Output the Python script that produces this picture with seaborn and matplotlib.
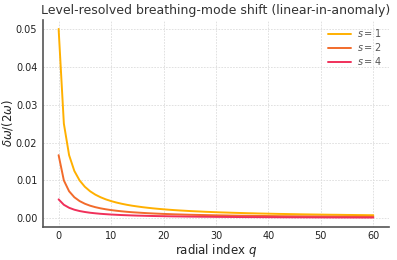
#!/usr/bin/env python
"""Level-resolved breathing-mode shift, one curve per s."""
import matplotlib
matplotlib.use('Agg')
import matplotlib.pyplot as plt
import seaborn as sb
import pandas as pd

# radial index q = 0..60
q_values = list(range(61))

shift_s1 = [0.05, 0.025, 0.01667, 0.0125, 0.01, 0.00833, 0.00714, 0.00625, 0.00556, 0.005,
            0.00455, 0.00417, 0.00385, 0.00357, 0.00333, 0.00313, 0.00294, 0.00278, 0.00263, 0.0025,
            0.00238, 0.00227, 0.00217, 0.00208, 0.002, 0.00192, 0.00185, 0.00179, 0.00172, 0.00167,
            0.00161, 0.00156, 0.00152, 0.00147, 0.00143, 0.00139, 0.00135, 0.00132, 0.00128, 0.00125,
            0.00122, 0.00119, 0.00116, 0.00114, 0.00111, 0.00109, 0.00106, 0.00104, 0.00102, 0.001,
            0.00098, 0.00096, 0.00094, 0.00093, 0.00091, 0.00089, 0.00088, 0.00086, 0.00085, 0.00083,
            0.00082]
shift_s2 = [0.01667, 0.01, 0.00714, 0.00556, 0.00455, 0.00385, 0.00333, 0.00294, 0.00263, 0.00238,
            0.00217, 0.002, 0.00185, 0.00172, 0.00161, 0.00152, 0.00143, 0.00135, 0.00128, 0.00122,
            0.00116, 0.00111, 0.00106, 0.00102, 0.00098, 0.00094, 0.00091, 0.00088, 0.00085, 0.00082,
            0.00079, 0.00077, 0.00075, 0.00072, 0.0007, 0.00068, 0.00067, 0.00065, 0.00063, 0.00062,
            0.0006, 0.00059, 0.00057, 0.00056, 0.00055, 0.00054, 0.00053, 0.00052, 0.00051, 0.0005,
            0.00049, 0.00048, 0.00047, 0.00046, 0.00045, 0.00044, 0.00044, 0.00043, 0.00042, 0.00041,
            0.00041]
shift_s4 = [0.005, 0.00357, 0.00278, 0.00227, 0.00192, 0.00167, 0.00147, 0.00132, 0.00119, 0.00109,
            0.001, 0.00093, 0.00086, 0.00081, 0.00076, 0.00071, 0.00068, 0.00064, 0.00061, 0.00058,
            0.00056, 0.00053, 0.00051, 0.00049, 0.00047, 0.00045, 0.00044, 0.00042, 0.00041, 0.0004,
            0.00038, 0.00037, 0.00036, 0.00035, 0.00034, 0.00033, 0.00032, 0.00032, 0.00031, 0.0003,
            0.00029, 0.00029, 0.00028, 0.00027, 0.00027, 0.00026, 0.00026, 0.00025, 0.00025, 0.00024,
            0.00024, 0.00023, 0.00023, 0.00022, 0.00022, 0.00022, 0.00021, 0.00021, 0.0002, 0.0002,
            0.0002]

series_labels = ['$s=1$', '$s=2$', '$s=4$']
series_colors = ['#ffb000', '#f26b2b', '#f0305a']


def main():
    # long-format frame for seaborn
    frames = []
    for label, vals in zip(series_labels, [shift_s1, shift_s2, shift_s4]):
        frames.append(pd.DataFrame({'q': q_values, 'shift': vals, 'series': label}))
    df = pd.concat(frames, ignore_index=True)

    sb.set_style('white')
    plt.rcParams['font.family'] = ['DejaVu Sans']

    fig = plt.figure(figsize=(3.97, 2.6), dpi=100)
    ax = fig.add_axes([0.108, 0.127, 0.872, 0.798])
    sb.lineplot(data=df, x='q', y='shift', hue='series', palette=series_colors,
                linewidth=1.4, ax=ax)

    ax.grid(True, linestyle=(0, (2, 1.5)), color='#dcdcdc', linewidth=0.6)
    for side in ['top', 'right']:
        ax.spines[side].set_visible(False)
    for side in ['left', 'bottom']:
        ax.spines[side].set_color('#555555')
        ax.spines[side].set_linewidth(1.2)
    ax.tick_params(length=0, labelsize=7, colors='#222222')
    ax.tick_params(axis='x', pad=3)
    ax.tick_params(axis='y', pad=4)
    ax.set_xticks([0, 10, 20, 30, 40, 50, 60])

    ax.set_title('Level-resolved breathing-mode shift (linear-in-anomaly)', fontsize=9,
                 color='#333333', pad=4)
    ax.set_xlabel('radial index $q$', fontsize=8.5, color='#222222', labelpad=0.5)
    ax.set_ylabel(r'$\delta\omega/(2\omega)$', fontsize=8.4, color='#222222', labelpad=0.5)
    ax.legend(title=None, frameon=False, fontsize=7, loc='upper right',
              handlelength=2.4, labelcolor='#555555', borderaxespad=0.4,
              labelspacing=0.2, handletextpad=0.6)

    plt.savefig('out.png', dpi=100)


if __name__ == "__main__":
    main()
